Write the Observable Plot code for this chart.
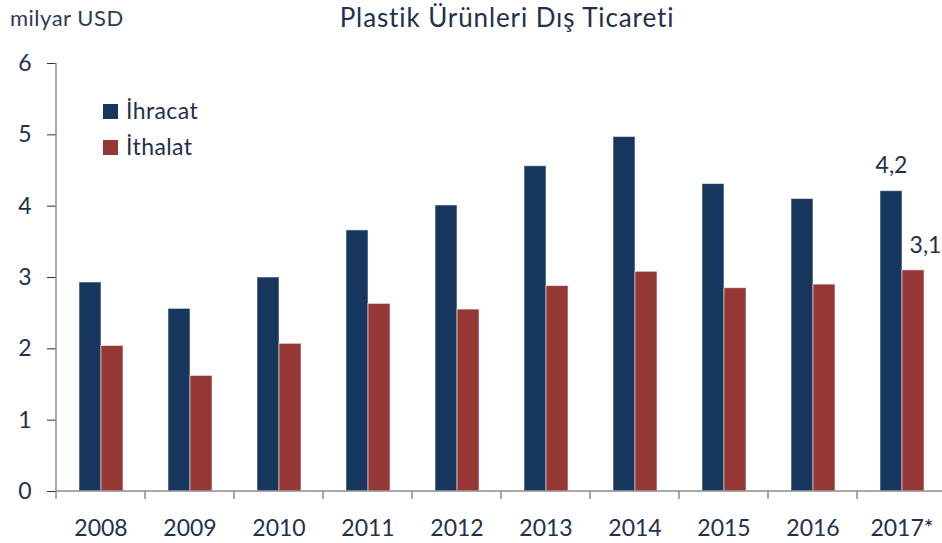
<!DOCTYPE html>
<html><head><meta charset="utf-8">
<script src="https://cdn.jsdelivr.net/npm/d3@7"></script>
<script src="https://cdn.jsdelivr.net/npm/@observablehq/plot@0.6"></script>
<style>
body{margin:0;background:#fff;overflow:hidden}
#c svg{font-family:Lato,sans-serif;font-variant-ligatures:none}
#c svg text{font-variant-ligatures:none}
</style></head>
<body><div id="c"></div>
<script>
const years = ["2008","2009","2010","2011","2012","2013","2014","2015","2016","2017*"];
const ihracat = [2.93,2.56,3.00,3.66,4.01,4.56,4.97,4.31,4.10,4.21];
const ithalat = [2.04,1.62,2.07,2.63,2.55,2.88,3.08,2.85,2.90,3.10];
const seriesNames = ["İhracat","İthalat"];
const seriesColors = ["#17375e","#953735"];
const yTicks = [0,1,2,3,4,5,6];
const titleText = "Plastik Ürünleri Dış Ticareti";
const unitText = "milyar USD";

const data = years.flatMap((y,i)=>[
  {year:y, series:seriesNames[0], value:ihracat[i]},
  {year:y, series:seriesNames[1], value:ithalat[i]}
]);
const lastYear = years[years.length-1];
const fmt = v => d3.format(".1f")(v).replace(".", ",");
const textColor = "#22304c";

const chart = Plot.plot({
  width: 942, height: 543,
  marginLeft: 55, marginRight: -5, marginTop: 63, marginBottom: 52,
  style: {fontFamily: "Lato, sans-serif", fontSize: "23px", color: textColor, background: "white", overflow: "visible"},
  fx: {domain: years, padding: 0, label: null, axis: "bottom", tickSize: 0, tickPadding: 28},
  x: {domain: seriesNames, paddingInner: 0, paddingOuter: 0.98, axis: null},
  y: {domain: [0,6], ticks: yTicks, tickFormat: "d", tickSize: 9, tickPadding: 16, label: null},
  color: {domain: seriesNames, range: seriesColors},
  marks: [
    Plot.barY(data, {fx:"year", x:"series", y:"value", fill:"series", stroke:"white", strokeOpacity:0.55, strokeWidth:1}),
    Plot.text(data.filter(d=>d.year===lastYear && d.series===seriesNames[0]),
      {fx:"year", x:"series", y:"value", text:d=>fmt(d.value), lineAnchor:"bottom", dy:-18, fill:textColor, fontSize:23}),
    Plot.text(data.filter(d=>d.year===lastYear && d.series===seriesNames[1]),
      {fx:"year", x:"series", y:"value", text:d=>fmt(d.value), lineAnchor:"bottom", dy:-17, dx:12, fill:textColor, fontSize:23})
  ]
});
document.getElementById("c").appendChild(chart);

const svg = d3.select(chart);
const y = chart.scale("y");
const fx = chart.scale("fx");
const axisColor = "#8c8c8c";
svg.selectAll("g[aria-label='y-axis tick']").attr("stroke", axisColor);
const y0 = y.apply(0), y6 = y.apply(6);
const x0 = fx.apply(years[0]);
const g = svg.append("g").attr("stroke", axisColor).attr("stroke-width", 1.5);
g.append("line").attr("x1", x0).attr("x2", x0).attr("y1", y6).attr("y2", y0);
g.append("line").attr("x1", x0).attr("x2", 942).attr("y1", y0).attr("y2", y0);
years.forEach(yr => {
  const bx = fx.apply(yr);
  g.append("line").attr("x1", bx).attr("x2", bx).attr("y1", y0).attr("y2", y0 + 8);
});

// title, unit, legend
svg.append("text").attr("x", 507).attr("y", 27).attr("text-anchor", "middle")
  .attr("fill", textColor).attr("font-size", 26).attr("letter-spacing", "0.9px").text(titleText);
svg.append("text").attr("x", 10).attr("y", 26).attr("text-anchor", "start").attr("fill", "#2d3b52")
  .attr("font-size", 22).attr("letter-spacing", "0.5px").text(unitText);
const leg = svg.append("g").attr("text-anchor", "start");
seriesNames.forEach((s, i) => {
  const top = 104 + i * 36;
  leg.append("rect").attr("x", 103).attr("y", top).attr("width", 15).attr("height", 15).attr("fill", seriesColors[i]);
  leg.append("text").attr("x", 126).attr("y", top + 15).attr("fill", textColor).attr("font-size", 23).attr("letter-spacing", "0.4px").text(s);
});
</script></body></html>
